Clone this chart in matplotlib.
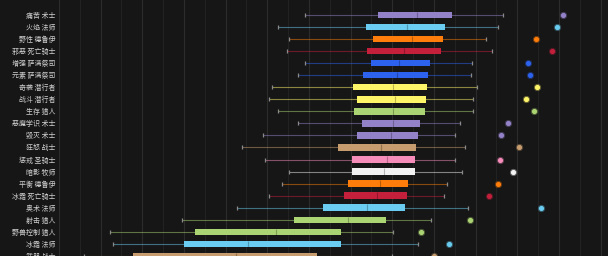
import numpy as np
import matplotlib.pyplot as plt

plt.rcParams['font.family'] = ['Noto Sans CJK SC', 'DejaVu Sans']

specs = ['痛苦 术士', '火焰 法师', '野性 德鲁伊', '邪恶 死亡骑士', '增强 萨满祭司',
         '元素 萨满祭司', '奇袭 潜行者', '战斗 潜行者', '生存 猎人', '恶魔学识 术士',
         '毁灭 术士', '狂怒 战士', '惩戒 圣骑士', '暗影 牧师', '平衡 德鲁伊',
         '冰霜 死亡骑士', '奥术 法师', '射击 猎人', '野兽控制 猎人', '冰霜 法师', '武器 战士']

low = [11800, 10500, 11040, 10960, 11810, 11460, 10210, 10080, 10500, 11460,
       9780, 8770, 9890, 11040, 10720, 10080, 8530, 5890, 2450, 2610, 1200]
q1 = [15330, 14720, 15060, 14770, 14980, 14610, 14100, 14320, 14170, 14530,
      14290, 13410, 14050, 14050, 13890, 13690, 12660, 11280, 6530, 6010, 3570]
med = [17170, 16690, 16930, 16570, 16330, 16240, 16020, 16130, 16050, 16020,
       15920, 15440, 15730, 15600, 15410, 15250, 14770, 13890, 10400, 9090, 8500]
q3 = [18850, 18530, 18420, 18320, 17820, 17700, 17680, 17620, 17580, 17330,
      17220, 17150, 17090, 17090, 16740, 16690, 16590, 15680, 13540, 13540, 12370]
high = [21300, 21090, 20500, 20780, 19810, 19760, 20050, 19860, 19860, 19250,
        19020, 19490, 19010, 19360, 18640, 18480, 19620, 17840, 16020, 17220, 16000]
outlier = [24180, 23890, 22880, 23680, 22500, 22610, 22960, 22400, 22810, 21550,
           21200, 22090, 21180, 21810, 21060, 20640, 23120, 19730, 17380, 18710, 18000]

class_colors = {'术士': '#9482C9', '法师': '#69CCF0', '德鲁伊': '#FF7D0A',
                '死亡骑士': '#C41F3B', '萨满祭司': '#2D62EE', '潜行者': '#FFF569',
                '猎人': '#ABD473', '战士': '#C79C6E', '圣骑士': '#F58CBA', '牧师': '#F2F2F2'}
colors = [class_colors[s.split(' ')[1]] for s in specs]

bg = '#161616'
fig = plt.figure(figsize=(6.08, 2.56), dpi=100, facecolor=bg)
ax = fig.add_axes([59 / 608, 0, 549 / 608, 1], facecolor=bg)

# grid: brighter every 2000, dimmer in between
for v in range(0, 27000, 1000):
    ax.axvline(v, color='#2c2c2c' if v % 2000 == 0 else '#222222', lw=0.8, zorder=0)

y = np.arange(len(specs))
h = 0.55
for i in range(len(specs)):
    c = colors[i]
    ax.hlines(y[i], low[i], high[i], color=c, alpha=0.5, lw=0.8, zorder=1)
    ax.barh(y[i], q3[i] - q1[i], left=q1[i], height=h, color=c, zorder=2)
    ax.vlines(med[i], y[i] - h / 2, y[i] + h / 2, color='black', alpha=0.25, lw=0.8, zorder=3)
    ax.scatter([low[i], high[i]], [y[i], y[i]], marker='|', s=6, color='#8a8a8a', lw=0.9, zorder=3)
    ax.scatter(outlier[i], y[i], s=9, color=c, edgecolors=c, linewidths=2.2, alpha=0.35, zorder=3)
    ax.scatter(outlier[i], y[i], s=7, color=c, zorder=4)

ax.set_xlim(0, 26357)
ax.set_ylim((256 - 15) / 12.2, -15 / 12.2)
ax.set_yticks(y)
ax.set_yticklabels(specs, fontsize=5, color='#d0d0d0')
ax.tick_params(axis='y', length=0, pad=2.5)
ax.set_xticks([])
for s in ax.spines.values():
    s.set_visible(False)

fig.savefig('out.png', dpi=100, facecolor=bg)
